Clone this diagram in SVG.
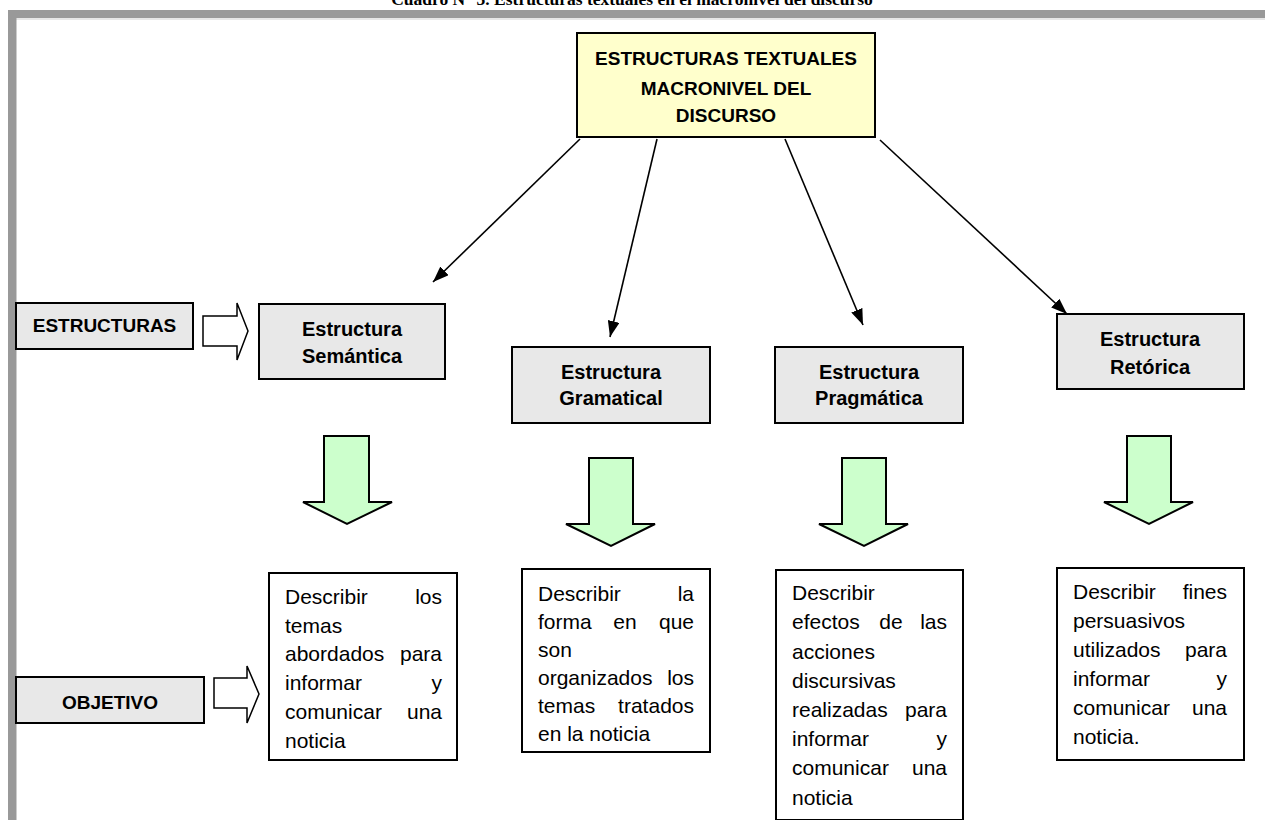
<svg xmlns="http://www.w3.org/2000/svg" width="1265" height="820" viewBox="0 0 1265 820">
<style>
.box{stroke:#000;stroke-width:2}
.sbox{fill:#e8e8e8}
.dbox{fill:#fff}
.top{fill:#ffffcc}
.lbl{font-family:"Liberation Sans",Arial,sans-serif;font-weight:bold;font-size:20px;text-anchor:middle;fill:#000}
.cap{font-family:"Liberation Sans",Arial,sans-serif;font-weight:bold;font-size:19px;text-anchor:middle;fill:#000}
.tx{font-family:"Liberation Sans",Arial,sans-serif;font-size:21px;fill:#000}
.e{text-anchor:end}
.m{text-anchor:middle}
.g{fill:#ccffcc;stroke:#000;stroke-width:2;stroke-linejoin:miter}
.h{fill:#fff;stroke:#000;stroke-width:1.5}
.con{stroke:#000;stroke-width:1.6;fill:none}
</style>
<defs>
<marker id="ah" viewBox="0 0 16 12" refX="16" refY="6" markerWidth="16" markerHeight="12" markerUnits="userSpaceOnUse" orient="auto">
<path d="M0,0 L16,6 L0,12 z" fill="#000"/>
</marker>
</defs>
<rect width="1265" height="820" fill="#fff"/>
<text x="632" y="5" font-family="'Liberation Serif','Times New Roman',serif" font-weight="bold" font-size="17.5" text-anchor="middle">Cuadro N° 3. Estructuras textuales en el macronivel del discurso</text>
<g id="frame">
<rect x="8" y="10" width="1257" height="8" fill="#999"/>
<rect x="16" y="18" width="1249" height="2" fill="#e6e6e6"/>
<rect x="8" y="10" width="8.5" height="810" fill="#999"/>
</g>
<g id="connectors">
<line class="con" x1="580" y1="139" x2="433" y2="282" marker-end="url(#ah)"/>
<line class="con" x1="657" y1="139" x2="610" y2="337" marker-end="url(#ah)"/>
<line class="con" x1="785" y1="139" x2="863" y2="325" marker-end="url(#ah)"/>
<line class="con" x1="880" y1="140" x2="1067" y2="314" marker-end="url(#ah)"/>
<path class="h" d="M203,316 H237 V303 L248,331 L237,360 V346 H203 Z"/>
<path class="h" d="M214,678 H247 V666 L259,694 L247,723 V708 H214 Z"/>
<path class="g" d="M324,436 H369 V502 H392 L347,524 L303,502 H324 Z"/>
<path class="g" d="M589,458 H633 V524 H655 L611,546 L566,524 H589 Z"/>
<path class="g" d="M842,458 H886 V524 H908 L864,546 L819,524 H842 Z"/>
<path class="g" d="M1127,436 H1171 V502 H1193 L1149,524 L1104,502 H1127 Z"/>
</g>
<g id="root">
<rect class="box top" x="577" y="33" width="298" height="104"/>
<text class="cap" x="726" y="65">ESTRUCTURAS TEXTUALES</text>
<text class="cap" x="726" y="95">MACRONIVEL DEL</text>
<text class="cap" x="726" y="122">DISCURSO</text>
</g>
<g id="estructuras">
<rect class="box sbox" x="16" y="303" width="177" height="46"/>
<text class="cap" x="104.5" y="332">ESTRUCTURAS</text>
</g>
<g id="objetivo">
<rect class="box sbox" x="16" y="677" width="188" height="46"/>
<text class="cap" x="110" y="709">OBJETIVO</text>
</g>
<g id="semantica">
<rect class="box sbox" x="259" y="304" width="186" height="75"/>
<text class="lbl" x="352" y="336">Estructura</text>
<text class="lbl" x="352" y="363">Semántica</text>
</g>
<g id="gramatical">
<rect class="box sbox" x="512" y="347" width="198" height="76"/>
<text class="lbl" x="611" y="379">Estructura</text>
<text class="lbl" x="611" y="405">Gramatical</text>
</g>
<g id="pragmatica">
<rect class="box sbox" x="775" y="347" width="188" height="76"/>
<text class="lbl" x="869" y="379">Estructura</text>
<text class="lbl" x="869" y="405">Pragmática</text>
</g>
<g id="retorica">
<rect class="box sbox" x="1057" y="314" width="187" height="75"/>
<text class="lbl" x="1150" y="346">Estructura</text>
<text class="lbl" x="1150" y="374">Retórica</text>
</g>
<g id="obj-semantica">
<rect class="box dbox" x="269" y="573" width="188" height="187"/>
<text class="tx" x="285" y="604">Describir</text><text class="tx e" x="442" y="604">los</text>
<text class="tx" x="285" y="633">temas</text>
<text class="tx" x="285" y="661">abordados</text><text class="tx e" x="442" y="661">para</text>
<text class="tx" x="285" y="690">informar</text><text class="tx e" x="442" y="690">y</text>
<text class="tx" x="285" y="719">comunicar</text><text class="tx e" x="442" y="719">una</text>
<text class="tx" x="285" y="748">noticia</text>
</g>
<g id="obj-gramatical">
<rect class="box dbox" x="522" y="569" width="188" height="183"/>
<text class="tx" x="538" y="601">Describir</text><text class="tx e" x="694" y="601">la</text>
<text class="tx" x="538" y="629">forma</text><text class="tx m" x="625" y="629">en</text><text class="tx e" x="694" y="629">que</text>
<text class="tx" x="538" y="657">son</text>
<text class="tx" x="538" y="685">organizados</text><text class="tx e" x="694" y="685">los</text>
<text class="tx" x="538" y="713">temas</text><text class="tx e" x="694" y="713">tratados</text>
<text class="tx" x="538" y="741">en la noticia</text>
</g>
<g id="obj-pragmatica">
<rect class="box dbox" x="776" y="570" width="187" height="250"/>
<text class="tx" x="792" y="600">Describir</text>
<text class="tx" x="792" y="629">efectos</text><text class="tx m" x="891" y="629">de</text><text class="tx e" x="947" y="629">las</text>
<text class="tx" x="792" y="659">acciones</text>
<text class="tx" x="792" y="688">discursivas</text>
<text class="tx" x="792" y="717">realizadas</text><text class="tx e" x="947" y="717">para</text>
<text class="tx" x="792" y="746">informar</text><text class="tx e" x="947" y="746">y</text>
<text class="tx" x="792" y="775">comunicar</text><text class="tx e" x="947" y="775">una</text>
<text class="tx" x="792" y="805">noticia</text>
</g>
<g id="obj-retorica">
<rect class="box dbox" x="1057" y="568" width="187" height="192"/>
<text class="tx" x="1073" y="599">Describir</text><text class="tx e" x="1227" y="599">fines</text>
<text class="tx" x="1073" y="628">persuasivos</text>
<text class="tx" x="1073" y="657">utilizados</text><text class="tx e" x="1227" y="657">para</text>
<text class="tx" x="1073" y="686">informar</text><text class="tx e" x="1227" y="686">y</text>
<text class="tx" x="1073" y="715">comunicar</text><text class="tx e" x="1227" y="715">una</text>
<text class="tx" x="1073" y="744">noticia.</text>
</g>
</svg>
